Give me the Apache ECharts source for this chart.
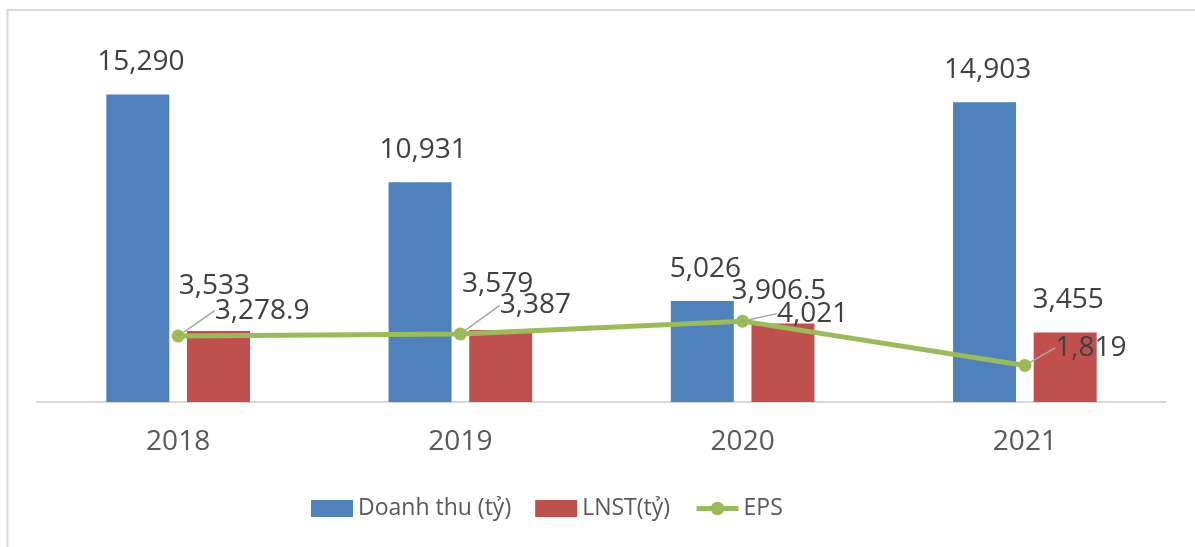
<!DOCTYPE html>
<html lang="vi">

<head>
    <meta charset="UTF-8">
    <title>Doanh thu - LNST - EPS</title>
    <script src="https://cdn.jsdelivr.net/npm/echarts@6/dist/echarts.min.js"></script>
    <style>
        html, body { margin: 0; padding: 0; background: #fff; }
        #chart { width: 1195px; height: 547px; }
    </style>
</head>

<body>
    <div id="chart"></div>

    <script>
        // data
        var years = ['2018', '2019', '2020', '2021'];
        var doanhThu = [15290, 10931, 5026, 14903];
        var lnst = [3533, 3579, 3906.5, 3455];
        var eps = [3278.9, 3387, 4021, 1819];

        // label nudges (px) so labels sit like in the original
        var lnstShift = [[-4, -13], [-3, -14], [-4, 0], [3, 0]];
        var epsShift = [[84, 0], [75, -3], [70, 18], [66, 8]];

        var fmt = function (p) { return p.value.toLocaleString('en-US'); };
        var font = '"Open Sans", "Noto Sans", sans-serif';

        var chart = echarts.init(document.getElementById('chart'));
        chart.setOption({
            backgroundColor: '#fff',
            animation: false,
            textStyle: { fontFamily: font },
            graphic: [{
                type: 'rect',
                shape: { x: 7.5, y: 10, width: 1300, height: 700 },
                style: { fill: 'none', stroke: '#d9d9d9', lineWidth: 2 },
                silent: true
            }],
            grid: { left: 37, right: 29, top: 40, bottom: 145 },
            legend: {
                left: 306,
                top: 492,
                itemWidth: 42,
                itemHeight: 17,
                itemGap: 24,
                textStyle: { fontSize: 23, color: '#595959', fontFamily: font },
                data: [
                    { name: 'Doanh thu (tỷ)', icon: 'rect' },
                    { name: 'LNST(tỷ)', icon: 'rect' },
                    { name: 'EPS', itemStyle: { color: '#9bbb59' }, lineStyle: { width: 5, color: '#9bbb59' } }
                ]
            },
            xAxis: {
                type: 'category',
                data: years,
                axisLine: { lineStyle: { color: '#d9d9d9', width: 2 } },
                axisTick: { show: false },
                axisLabel: { fontSize: 28, color: '#595959', margin: 26 }
            },
            yAxis: {
                type: 'value',
                min: 0,
                max: 18000,
                show: false,
                splitLine: { show: false }
            },
            series: [{
                name: 'Doanh thu (tỷ)',
                type: 'bar',
                data: doanhThu,
                barWidth: 63,
                barGap: '28%',
                itemStyle: { color: '#4f81bd' },
                label: {
                    show: true, position: 'top', distance: 18, offset: [3, 0],
                    fontSize: 28, color: '#404040', formatter: fmt
                }
            }, {
                name: 'LNST(tỷ)',
                type: 'bar',
                data: lnst.map(function (v, i) {
                    return { value: v, label: { offset: lnstShift[i] } };
                }),
                barWidth: 63,
                itemStyle: { color: '#c0504d' },
                label: {
                    show: true, position: 'top', distance: 18,
                    fontSize: 28, color: '#404040', formatter: fmt
                }
            }, {
                name: 'EPS',
                type: 'line',
                data: eps,
                symbol: 'circle',
                symbolSize: 13,
                lineStyle: { color: '#9bbb59', width: 5 },
                itemStyle: { color: '#9bbb59' },
                z: 5,
                label: {
                    show: true, position: 'top',
                    fontSize: 28, color: '#404040', formatter: fmt
                },
                labelLine: {
                    show: true,
                    lineStyle: { color: '#a6a6a6', width: 1.5 }
                },
                labelLayout: function (p) {
                    return { dx: epsShift[p.dataIndex][0], dy: epsShift[p.dataIndex][1] };
                }
            }]
        });
    </script>
</body>

</html>
